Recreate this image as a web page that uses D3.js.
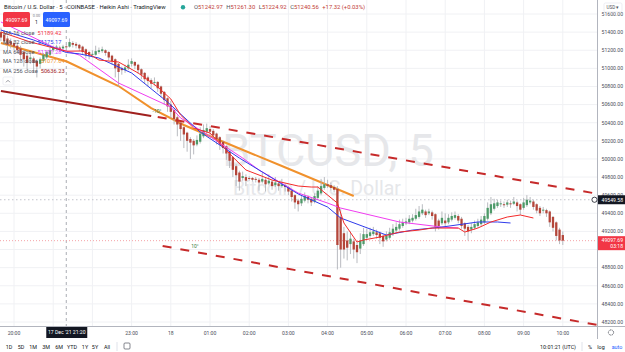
<!DOCTYPE html>
<html lang="en">
<head>
    <meta charset="UTF-8">
    <title>BTCUSD 5 Heikin Ashi</title>
    <script src="https://cdn.jsdelivr.net/npm/d3@7"></script>
    <style>
        body { margin: 0; background: #fff; }
        svg { display: block; font-family: Roboto, "Liberation Sans", sans-serif; }
        .grid line { stroke: #f0f1f4; stroke-width: 1; }
        .tick-label { font-size: 5.1px; fill: #4a4e5a; }
        .legend { font-size: 5.7px; fill: #50535e; }
    </style>
</head>
<body>
<div id="chart"></div>
<script>
    const width = 625;
    const height = 352;
    const plotRight = 597;
    const plotBottom = 326;

    // first bar 17 Dec 2021 19:40 UTC, 5 minute bars
    const firstBar = Date.UTC(2021, 11, 17, 19, 40);
    const barMs = 5 * 60 * 1000;

    // heikin ashi bars [open, high, low, close]
    const candles = [
        // 19:40
        [51400, 51450, 51300, 51340], [51370, 51420, 51260, 51300], [51330, 51360, 51200, 51260], [51300, 51330, 51220, 51260],
        // 20:00
        [51280, 51310, 51200, 51240], [51250, 51280, 51160, 51200], [51220, 51250, 51100, 51150], [51180, 51200, 51020, 51100],
        [51140, 51160, 50980, 51060], [51100, 51160, 51050, 51120], [51110, 51130, 50950, 51060], [51080, 51100, 50900, 51020],
        [51050, 51120, 51000, 51100], [51080, 51170, 51060, 51150], [51120, 51200, 51100, 51180], [51150, 51230, 51130, 51200],
        // 21:00
        [51200, 51250, 51180, 51230], [51220, 51260, 51200, 51240], [51230, 51250, 51180, 51210], [51220, 51260, 51200, 51240],
        [51242.97, 51261.30, 51224.92, 51240.56], [51240, 51330, 51230, 51290], [51280, 51300, 51230, 51260], [51270, 51290, 51220, 51250],
        [51260, 51270, 51190, 51220], [51240, 51250, 51150, 51180], [51210, 51220, 51110, 51150], [51180, 51190, 51100, 51140],
        // 22:00
        [51150, 51200, 51120, 51160], [51150, 51250, 51140, 51190], [51180, 51230, 51160, 51200], [51190, 51240, 51170, 51210],
        [51200, 51210, 51140, 51170], [51180, 51190, 51090, 51120], [51140, 51150, 51040, 51080], [51100, 51110, 50900, 51000],
        [51050, 51060, 50800, 50960], [51000, 51020, 50930, 50980], [50980, 51040, 50950, 51010], [51000, 51100, 50980, 51040],
        // 23:00
        [51050, 51110, 51020, 51080], [51070, 51080, 50990, 51030], [51040, 51050, 50940, 50980], [50990, 51000, 50880, 50930],
        [50950, 50960, 50830, 50880], [50900, 50920, 50800, 50860], [50870, 50890, 50780, 50830], [50840, 50900, 50810, 50850],
        [50850, 50860, 50740, 50780], [50800, 50810, 50680, 50720], [50740, 50750, 50600, 50650], [50670, 50680, 50520, 50580],
        // 00:00
        [50600, 50640, 50450, 50520], [50540, 50560, 50380, 50440], [50460, 50480, 50250, 50380], [50400, 50420, 50200, 50330],
        [50350, 50360, 50120, 50270], [50290, 50300, 50080, 50200], [50220, 50240, 50000, 50180], [50200, 50220, 50050, 50150],
        [50160, 50260, 50140, 50210], [50190, 50350, 50170, 50280], [50250, 50380, 50230, 50320], [50300, 50390, 50280, 50340],
        // 01:00
        [50330, 50360, 50260, 50300], [50310, 50330, 50210, 50260], [50280, 50290, 50160, 50220], [50240, 50250, 50100, 50160],
        [50190, 50200, 50060, 50120], [50140, 50150, 49990, 50060], [50080, 50090, 49900, 49980], [50020, 50030, 49800, 49880],
        [49920, 49940, 49700, 49820], [49850, 49870, 49650, 49750], [49790, 49860, 49760, 49810], [49800, 49830, 49700, 49760],
        // 02:00
        [49790, 49810, 49760, 49780], [49790, 49800, 49750, 49770], [49780, 49800, 49740, 49770], [49770, 49790, 49650, 49740],
        [49750, 49850, 49730, 49780], [49770, 49790, 49640, 49720], [49730, 49830, 49710, 49760], [49750, 49770, 49660, 49700],
        [49710, 49800, 49690, 49740], [49730, 49750, 49650, 49700], [49700, 49780, 49680, 49720], [49710, 49730, 49640, 49690],
        // 03:00
        [49690, 49700, 49600, 49640], [49650, 49660, 49530, 49580], [49600, 49610, 49450, 49520], [49540, 49560, 49420, 49500],
        [49510, 49600, 49480, 49560], [49540, 49630, 49520, 49590], [49580, 49600, 49510, 49550], [49560, 49580, 49480, 49520],
        [49530, 49620, 49510, 49590], [49570, 49700, 49550, 49650], [49620, 49780, 49600, 49700], [49680, 49800, 49660, 49720],
        // 04:00
        [49720, 49770, 49680, 49700], [49710, 49740, 49650, 49680], [49690, 49710, 49630, 49660], [49670, 49700, 48780, 49050],
        [49360, 49450, 48800, 49000], [49180, 49250, 48900, 49000], [49100, 49200, 48880, 49020], [49060, 49200, 48950, 49120],
        [49090, 49120, 48900, 49000], [49050, 49080, 48850, 48970], [49010, 49180, 48950, 49100], [49060, 49240, 49040, 49170],
        // 05:00
        [49130, 49230, 49110, 49170], [49150, 49240, 49130, 49190], [49170, 49250, 49150, 49200], [49190, 49220, 49120, 49160],
        [49180, 49200, 49060, 49130], [49150, 49170, 49030, 49090], [49110, 49200, 49090, 49150], [49130, 49240, 49110, 49190],
        [49170, 49280, 49150, 49230], [49210, 49300, 49190, 49250], [49230, 49330, 49210, 49280], [49260, 49340, 49240, 49300],
        // 06:00
        [49290, 49350, 49270, 49310], [49300, 49380, 49280, 49340], [49320, 49390, 49300, 49350], [49340, 49450, 49320, 49380],
        [49360, 49480, 49340, 49420], [49400, 49500, 49380, 49440], [49420, 49440, 49350, 49380], [49400, 49450, 49380, 49420],
        [49410, 49430, 49330, 49370], [49390, 49400, 49200, 49250], [49320, 49340, 49220, 49260], [49290, 49420, 49270, 49350],
        // 07:00
        [49320, 49400, 49260, 49290], [49300, 49390, 49280, 49350], [49330, 49410, 49310, 49370], [49350, 49420, 49330, 49380],
        [49370, 49390, 49290, 49320], [49340, 49360, 49230, 49260], [49290, 49300, 49150, 49230], [49250, 49270, 49100, 49200],
        [49220, 49290, 49180, 49250], [49240, 49320, 49220, 49280], [49260, 49340, 49240, 49300], [49280, 49370, 49260, 49330],
        // 08:00
        [49300, 49400, 49280, 49370], [49340, 49520, 49320, 49460], [49400, 49580, 49380, 49500], [49450, 49560, 49430, 49510],
        [49480, 49550, 49460, 49520], [49500, 49540, 49470, 49510], [49500, 49530, 49460, 49490], [49495, 49550, 49470, 49520],
        [49510, 49540, 49460, 49500], [49505, 49580, 49490, 49530], [49520, 49540, 49420, 49480], [49500, 49510, 49380, 49440],
        // 09:00
        [49460, 49570, 49440, 49520], [49490, 49600, 49470, 49550], [49520, 49580, 49500, 49540], [49530, 49550, 49440, 49470],
        [49500, 49510, 49400, 49430], [49460, 49480, 49370, 49400], [49430, 49470, 49400, 49440], [49435, 49450, 49360, 49400],
        [49420, 49430, 49250, 49300], [49360, 49370, 49200, 49240], [49300, 49310, 49100, 49150], [49220, 49240, 49060, 49100],
        // 10:00
        [49160, 49200, 49050, 49097.69]
    ];

    // moving averages: [bar index, price]
    const ma16 = [[0, 51401], [9, 51291], [20, 51189], [25, 51192], [28, 51136], [30, 51092], [36, 51070], [42, 50949],
        [48, 50794], [52, 50662], [55, 50485], [59, 50341], [64, 50286], [71, 50021], [75, 49878], [83, 49767],
        [91, 49701], [95, 49690], [97, 49690], [103, 49513], [105, 49293], [109, 49083], [111, 49105], [116, 49138],
        [122, 49193], [128, 49215], [132, 49237], [140, 49237], [142, 49193], [146, 49237], [150, 49304], [155, 49359],
        [159, 49381], [163, 49348]];
    const ma32 = [[0, 51423], [10, 51313], [20, 51175], [24, 51160], [30, 51114], [40, 50949], [51, 50628], [61, 50297],
        [73, 50010], [91, 49613], [100, 49469], [104, 49348], [118, 49160], [126, 49215], [135, 49248], [146, 49304],
        [152, 49304], [156, 49293]];
    const ma64 = [[0, 51512], [16, 51236], [20, 51191], [24, 51147], [36, 50838], [52, 50573], [55, 50452], [61, 50319],
        [74, 50010], [79, 49878], [91, 49624], [100, 49513], [104, 49458], [122, 49304], [135, 49248], [140, 49237]];
    const ma128 = [[0, 51280], [20, 51078], [36, 50805], [46, 50562], [56, 50375], [66, 50220], [86, 49922], [108, 49591]];
    const ma256 = [[0, 50750], [46, 50474]];

    // parallel channel
    const channelUpper = [[48, 50463], [185, 49600]];
    const channelLower = [[49.5, 49039], [185, 48151]];

    const priceTicks = d3.range(48200, 51601, 200);
    const lastPrice = 49097.69;
    const linePrice = 49549.58;
    const hoverBar = 20;

    const legendItems = [
        { name: "MA 16 close", value: "51189.42", color: "#f23645" },
        { name: "MA 32 close", value: "51175.17", color: "#2f3bea" },
        { name: "MA 64 close", value: "51191.28", color: "#e040fb" },
        { name: "MA 128 close", value: "51077.64", color: "#f0912c" },
        { name: "MA 256 close", value: "50636.23", color: "#a0201e" }
    ];
    const rangeButtons = ["1D", "5D", "1M", "3M", "6M", "YTD", "1Y", "5Y", "All"];

    const barTime = i => new Date(firstBar + i * barMs);

    const x = d3.scaleUtc()
        .domain([new Date(Date.UTC(2021, 11, 17, 20)), new Date(Date.UTC(2021, 11, 18, 10))])
        .range([14, 562.8]);
    const y = d3.scaleLinear().domain([48200, 51600]).range([322, 14]);

    const svg = d3.select("#chart").append("svg").attr("width", width).attr("height", height);
    svg.append("rect").attr("width", width).attr("height", height).attr("fill", "#fff");

    svg.append("clipPath").attr("id", "plot-clip")
        .append("rect").attr("width", plotRight).attr("height", plotBottom);

    // grid
    const hourTicks = x.ticks(d3.utcHour.every(1));
    const grid = svg.append("g").attr("class", "grid");
    grid.selectAll("line.v").data(hourTicks).enter().append("line")
        .attr("x1", d => x(d)).attr("x2", d => x(d)).attr("y1", 0).attr("y2", plotBottom);
    grid.selectAll("line.h").data(priceTicks).enter().append("line")
        .attr("x1", 0).attr("x2", plotRight).attr("y1", d => y(d)).attr("y2", d => y(d));

    // watermark
    svg.append("text").attr("x", 328).attr("y", 166).attr("text-anchor", "middle")
        .attr("font-size", 45).attr("fill", "#e6e7ea").text("BTCUSD, 5");
    svg.append("text").attr("x", 317).attr("y", 195).attr("text-anchor", "middle")
        .attr("font-size", 19.5).attr("fill", "#e6e7ea").text("Bitcoin / U.S. Dollar");

    const plot = svg.append("g").attr("clip-path", "url(#plot-clip)");

    // crosshair + price lines
    plot.append("line").attr("x1", x(barTime(hoverBar))).attr("x2", x(barTime(hoverBar)))
        .attr("y1", 0).attr("y2", plotBottom)
        .attr("stroke", "#9598a1").attr("stroke-width", 0.8).attr("stroke-dasharray", "3,3");
    plot.append("line").attr("x1", 0).attr("x2", plotRight).attr("y1", y(linePrice)).attr("y2", y(linePrice))
        .attr("stroke", "#c3c5cc").attr("stroke-width", 1).attr("stroke-dasharray", "1.5,2.5");
    plot.append("line").attr("x1", 0).attr("x2", plotRight).attr("y1", y(lastPrice)).attr("y2", y(lastPrice))
        .attr("stroke", "#f5a3a6").attr("stroke-width", 1).attr("stroke-dasharray", "1,2");

    // ma 256 and 128 drawn under the candles
    const maLine = d3.line().x(d => x(barTime(d[0]))).y(d => y(d[1]));
    plot.append("path").attr("d", maLine(ma256)).attr("fill", "none")
        .attr("stroke", "#a0201e").attr("stroke-width", 2.2);
    plot.append("path").attr("d", maLine(ma128)).attr("fill", "none")
        .attr("stroke", "#f0912c").attr("stroke-width", 2);

    // candles
    const bars = plot.append("g").selectAll("g").data(candles).enter().append("g");
    bars.append("line")
        .attr("x1", (d, i) => x(barTime(i))).attr("x2", (d, i) => x(barTime(i)))
        .attr("y1", d => y(d[1])).attr("y2", d => y(d[2]))
        .attr("stroke", "#a7a9b0").attr("stroke-width", 0.8);
    bars.append("rect")
        .attr("x", (d, i) => x(barTime(i)) - 1.15).attr("width", 2.3)
        .attr("y", d => y(Math.max(d[0], d[3])))
        .attr("height", d => Math.max(1, Math.abs(y(d[0]) - y(d[3]))))
        .attr("fill", d => d[3] >= d[0] ? "#4e9a69" : "#b4463a");

    // faster moving averages
    [[ma64, "#f03cf0"], [ma32, "#2f3bea"], [ma16, "#f32a2a"]].forEach(([pts, col]) => {
        plot.append("path").attr("d", maLine(pts)).attr("fill", "none")
            .attr("stroke", col).attr("stroke-width", 1);
    });

    // channel
    [channelUpper, channelLower].forEach(pts => {
        plot.append("path").attr("d", maLine(pts)).attr("fill", "none")
            .attr("stroke", "#c62a2a").attr("stroke-width", 2).attr("stroke-dasharray", "9,9");
    });
    plot.append("text").attr("x", 157).attr("y", 113).attr("text-anchor", "middle")
        .attr("font-size", 5).attr("fill", "#3f7f45").text("-10°");
    plot.append("text").attr("x", 195).attr("y", 247.5).attr("text-anchor", "middle")
        .attr("font-size", 5).attr("fill", "#3f7f45").text("10°");

    // price axis (labels under the red price tag are hidden, as on the chart)
    svg.append("line").attr("x1", plotRight + 0.5).attr("x2", plotRight + 0.5).attr("y1", 0).attr("y2", 339)
        .attr("stroke", "#b2b5be").attr("stroke-width", 1);
    svg.append("g").selectAll("text")
        .data(priceTicks.filter(p => Math.abs(y(p) - y(lastPrice) - 2.5) > 9))
        .enter().append("text")
        .attr("class", "tick-label").attr("x", 623).attr("y", d => y(d) + 1.8).attr("text-anchor", "end")
        .text(d => d.toFixed(2));

    const usd = svg.append("g");
    usd.append("rect").attr("x", 604).attr("y", 3).attr("width", 18).attr("height", 9).attr("rx", 1.5)
        .attr("fill", "#fff").attr("stroke", "#e0e3eb").attr("stroke-width", 0.6);
    usd.append("text").attr("x", 613).attr("y", 9.3).attr("text-anchor", "middle")
        .attr("font-size", 4.6).attr("fill", "#50535e").text("USD ▾");

    // price line label
    svg.append("rect").attr("x", 598).attr("y", y(linePrice) - 4.5).attr("width", 27).attr("height", 9)
        .attr("fill", "#131722");
    svg.append("text").attr("x", 623).attr("y", y(linePrice) + 1.8).attr("text-anchor", "end")
        .attr("font-size", 5.1).attr("fill", "#fff").text(linePrice.toFixed(2));
    svg.append("circle").attr("cx", 594.5).attr("cy", y(linePrice)).attr("r", 2.6)
        .attr("fill", "#fff").attr("stroke", "#131722").attr("stroke-width", 0.8);

    // last price label
    svg.append("rect").attr("x", 598).attr("y", y(lastPrice) - 4.5).attr("width", 27).attr("height", 14)
        .attr("fill", "#f23645");
    svg.append("text").attr("x", 623).attr("y", y(lastPrice) + 1.8).attr("text-anchor", "end")
        .attr("font-size", 5.1).attr("fill", "#fff").text(lastPrice.toFixed(2));
    svg.append("text").attr("x", 623).attr("y", y(lastPrice) + 7.5).attr("text-anchor", "end")
        .attr("font-size", 5.1).attr("fill", "#fff").text("03:18");

    // time axis (label under the crosshair tag is hidden)
    const hx = x(barTime(hoverBar));
    svg.append("line").attr("x1", 0).attr("x2", width).attr("y1", plotBottom + 0.5).attr("y2", plotBottom + 0.5)
        .attr("stroke", "#b2b5be").attr("stroke-width", 1);
    const fmtHour = d3.utcFormat("%H:%M");
    svg.append("g").selectAll("text")
        .data(hourTicks.filter(d => Math.abs(x(d) - hx) > 28))
        .enter().append("text")
        .attr("class", "tick-label").attr("x", d => x(d)).attr("y", 334.5).attr("text-anchor", "middle")
        .text(d => d.getUTCHours() === 0 ? d3.utcFormat("%-d")(d) : fmtHour(d));

    svg.append("rect").attr("x", hx - 20).attr("y", 327).attr("width", 41).attr("height", 11)
        .attr("fill", "#131722");
    svg.append("text").attr("x", hx + 0.5).attr("y", 334.3).attr("text-anchor", "middle")
        .attr("font-size", 5.1).attr("fill", "#fff").text("17 Dec '21   21:20");

    // settings gear
    svg.append("circle").attr("cx", 611).attr("cy", 332.5).attr("r", 2.6)
        .attr("fill", "none").attr("stroke", "#50535e").attr("stroke-width", 0.9).attr("stroke-dasharray", "1.2,0.6");

    // bottom toolbar
    const tb = svg.append("g").attr("font-size", 5.4).attr("fill", "#131722");
    tb.selectAll("text").data(rangeButtons).enter().append("text")
        .attr("x", (d, i) => [9, 21, 33, 46, 59, 72, 85, 95, 107][i]).attr("y", 348.5)
        .attr("text-anchor", "middle").text(d => d);
    tb.append("line").attr("x1", 117).attr("x2", 117).attr("y1", 342).attr("y2", 351)
        .attr("stroke", "#e0e3eb");
    tb.append("rect").attr("x", 124).attr("y", 343).attr("width", 6).attr("height", 6).attr("rx", 1)
        .attr("fill", "none").attr("stroke", "#50535e").attr("stroke-width", 0.7);
    tb.append("text").attr("x", 576).attr("y", 348.5).attr("text-anchor", "end").text("10:01:21 (UTC)");
    tb.append("line").attr("x1", 582).attr("x2", 582).attr("y1", 342).attr("y2", 351).attr("stroke", "#e0e3eb");
    tb.append("text").attr("x", 590).attr("y", 348.5).attr("text-anchor", "middle").text("%");
    tb.append("text").attr("x", 601).attr("y", 348.5).attr("text-anchor", "middle").text("log");
    tb.append("text").attr("x", 617).attr("y", 348.5).attr("text-anchor", "middle").attr("fill", "#2962ff").text("auto");

    // header
    const hd = svg.append("text").attr("x", 4).attr("y", 9).attr("font-size", 5.9).attr("fill", "#131722");
    hd.text("Bitcoin / U.S. Dollar · 5 · COINBASE · Heikin Ashi · TradingView");
    svg.append("circle").attr("cx", 183).attr("cy", 7.2).attr("r", 2.2).attr("fill", "#26a69a");
    const hov = candles[hoverBar];
    const ohlc = svg.append("text").attr("x", 194).attr("y", 9).attr("font-size", 5.9).attr("fill", "#c23c36");
    [["O", hov[0]], ["H", hov[1]], ["L", hov[2]], ["C", hov[3]]].forEach(([k, v], i) => {
        ohlc.append("tspan").attr("fill", "#50535e").attr("dx", i ? 3.5 : 0).text(k);
        ohlc.append("tspan").text(v.toFixed(2));
    });
    ohlc.append("tspan").attr("dx", 3.5).text("+17.32 (+0.03%)");

    // buy / sell buttons
    svg.append("rect").attr("x", 3).attr("y", 12).attr("width", 27).attr("height", 15).attr("rx", 1.5).attr("fill", "#f23645");
    svg.append("text").attr("x", 16.5).attr("y", 21.5).attr("text-anchor", "middle")
        .attr("font-size", 5.2).attr("fill", "#fff").text(lastPrice.toFixed(2));
    svg.append("rect").attr("x", 43).attr("y", 12).attr("width", 27).attr("height", 15).attr("rx", 1.5).attr("fill", "#2962ff");
    svg.append("text").attr("x", 56.5).attr("y", 21.5).attr("text-anchor", "middle")
        .attr("font-size", 5.2).attr("fill", "#fff").text(lastPrice.toFixed(2));
    svg.append("text").attr("x", 36.5).attr("y", 16.5).attr("text-anchor", "middle")
        .attr("font-size", 3.8).attr("fill", "#787b86").text("0.00");
    svg.append("text").attr("x", 36.5).attr("y", 23.5).attr("text-anchor", "middle")
        .attr("font-size", 5).attr("fill", "#131722").text("1");

    // legend
    const lg = svg.append("g");
    legendItems.forEach((d, i) => {
        const t = lg.append("text").attr("class", "legend").attr("x", 3).attr("y", 35 + i * 9.4);
        t.append("tspan").text(d.name);
        t.append("tspan").attr("dx", 3).attr("fill", d.color).text(d.value);
    });
    lg.append("rect").attr("x", 3).attr("y", 77).attr("width", 10).attr("height", 8).attr("rx", 1.5)
        .attr("fill", "#fff").attr("stroke", "#e0e3eb").attr("stroke-width", 0.6);
    lg.append("path").attr("d", "M6,82.3 L8,80.3 L10,82.3").attr("fill", "none")
        .attr("stroke", "#50535e").attr("stroke-width", 0.6);
</script>
</body>
</html>
